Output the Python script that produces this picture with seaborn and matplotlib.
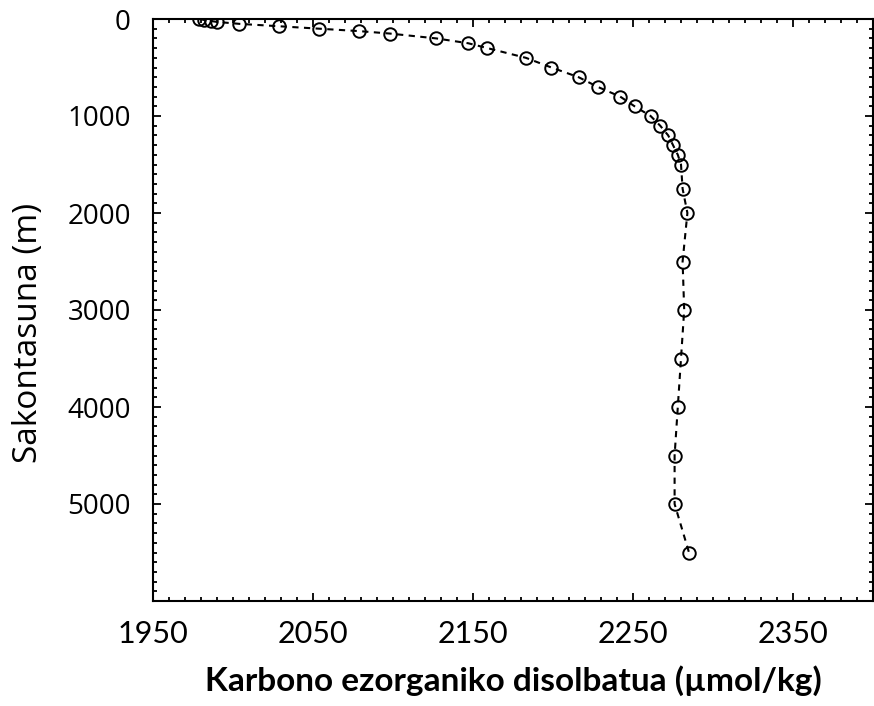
import matplotlib
matplotlib.use("Agg")
import matplotlib.pyplot as plt
import seaborn as sns
import pandas as pd
from matplotlib.ticker import MultipleLocator

# Data
depth_m = [0, 10, 20, 30, 50, 75, 100, 125, 150, 200, 250, 300, 400, 500, 600,
           700, 800, 900, 1000, 1100, 1200, 1300, 1400, 1500, 1750, 2000, 2500,
           3000, 3500, 4000, 4500, 5000, 5500]
dic_umolkg = [1979, 1982, 1986, 1990, 2004, 2029, 2054, 2079, 2098, 2127, 2147,
              2159, 2183, 2199, 2216, 2228, 2242, 2251, 2261, 2267, 2272, 2275,
              2278, 2280, 2281, 2284, 2281, 2282, 2280, 2278, 2276, 2276, 2285]
x_ticks = [1950, 2050, 2150, 2250, 2350]
y_ticks = [0, 1000, 2000, 3000, 4000, 5000]
x_label = "Karbono ezorganiko disolbatua (µmol/kg)"
y_label = "Sakontasuna (m)"

df = pd.DataFrame({"dic": dic_umolkg, "depth": depth_m})

sns.set_style("ticks")
plt.rcParams["font.family"] = ["Open Sans", "DejaVu Sans"]
plt.rcParams["text.color"] = "black"
plt.rcParams["axes.labelcolor"] = "black"
plt.rcParams["xtick.color"] = "black"
plt.rcParams["ytick.color"] = "black"

fig = plt.figure(figsize=(8.74, 7.06), dpi=100)
ax = fig.add_axes([153 / 874, 1 - 601 / 706, (873 - 153) / 874, (601 - 19) / 706])

sns.lineplot(data=df, x="dic", y="depth", sort=False, estimator=None, ax=ax,
             color="black", linewidth=1.5, linestyle=(0, (3, 2.6)),
             marker="o", markersize=9, markerfacecolor="none",
             markeredgecolor="black", markeredgewidth=1.4)

ax.set_xlim(1950, 2400)
ax.set_ylim(6000, 0)
ax.set_xticks(x_ticks)
ax.set_yticks(y_ticks)
ax.xaxis.set_minor_locator(MultipleLocator(10))
ax.yaxis.set_minor_locator(MultipleLocator(100))

ax.tick_params(which="both", direction="in", top=True, right=True,
               color="black", width=1.3)
ax.tick_params(which="major", length=6)
ax.tick_params(which="minor", length=3)
ax.tick_params(axis="x", which="major", pad=14)
ax.tick_params(axis="y", which="major", pad=16)

for lab in ax.get_xticklabels():
    lab.set_fontfamily(["Lato", "DejaVu Sans"])
    lab.set_fontsize(22)
    lab.set_color("black")
for lab in ax.get_yticklabels():
    lab.set_fontfamily(["Open Sans", "DejaVu Sans"])
    lab.set_fontsize(20)
    lab.set_color("black")

for sp in ax.spines.values():
    sp.set_linewidth(1.5)
    sp.set_color("black")

ax.set_xlabel(x_label, fontsize=24, fontweight="bold", color="black",
              family=["Lato", "DejaVu Sans"], labelpad=12)
ax.set_ylabel(y_label, fontsize=24, color="black",
              family=["Open Sans", "DejaVu Sans"])
ax.yaxis.set_label_coords(-0.15, 0.46)

fig.savefig("out.png", dpi=100)
